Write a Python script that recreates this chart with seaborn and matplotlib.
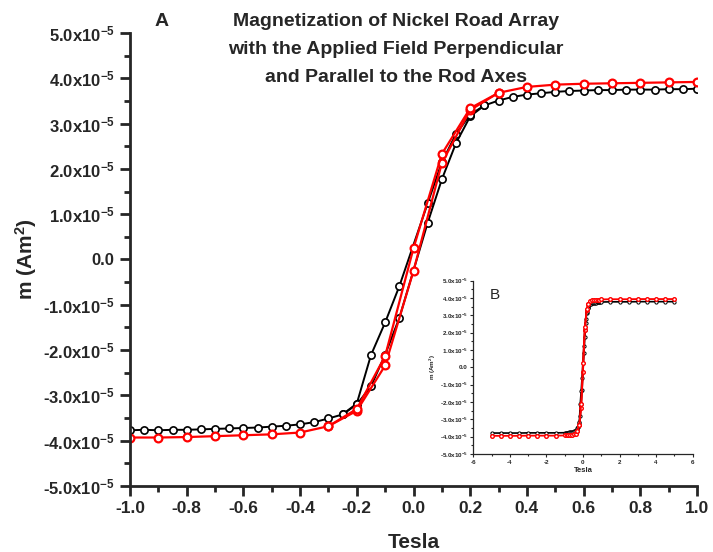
import numpy as np
import pandas as pd
import matplotlib
matplotlib.use("Agg")
import matplotlib.pyplot as plt
from matplotlib.ticker import MultipleLocator, FuncFormatter
import seaborn as sns

# ---------------- data (m in units of 1e-5 A m^2) ----------------
black_up_field = [-1.0, -0.95, -0.9, -0.85, -0.8, -0.75, -0.7, -0.65, -0.6, -0.55,
                  -0.5, -0.45, -0.4, -0.35, -0.3, -0.25, -0.2, -0.15, -0.1, -0.05,
                  0.05, 0.1, 0.15, 0.2, 0.25, 0.3, 0.35, 0.4, 0.45, 0.5,
                  0.55, 0.6, 0.65, 0.7, 0.75, 0.8, 0.85, 0.9, 0.95, 1.0]
black_up_m = [-3.77, -3.76, -3.77, -3.76, -3.76, -3.75, -3.74, -3.73, -3.72, -3.71,
              -3.69, -3.67, -3.64, -3.59, -3.51, -3.42, -3.20, -2.80, -2.10, -1.29,
              0.81, 1.77, 2.57, 3.16, 3.40, 3.51, 3.59, 3.64, 3.67, 3.70,
              3.72, 3.73, 3.74, 3.74, 3.75, 3.75, 3.75, 3.76, 3.76, 3.77]
black_down_field = [0.25, 0.2, 0.15, 0.1, 0.05, -0.05, -0.1, -0.15, -0.2, -0.25]
black_down_m = [3.40, 3.20, 2.77, 2.15, 1.24, -0.59, -1.39, -2.11, -3.18, -3.42]

red_up_field = [-1.0, -0.9, -0.8, -0.7, -0.6, -0.5, -0.4, -0.3, -0.2, -0.1,
                0.0, 0.1, 0.2, 0.3, 0.4, 0.5, 0.6, 0.7, 0.8, 0.9, 1.0]
red_up_m = [-3.93, -3.93, -3.92, -3.90, -3.88, -3.86, -3.82, -3.68, -3.34, -2.34,
            -0.25, 2.13, 3.30, 3.68, 3.81, 3.86, 3.88, 3.89, 3.90, 3.91, 3.92]
red_down_field = [0.3, 0.2, 0.1, 0.0, -0.1, -0.2, -0.3]
red_down_m = [3.68, 3.34, 2.33, 0.25, -2.13, -3.30, -3.68]

# wide-range (inset) extra points
wide_neg_field = [-5.0, -4.5, -4.0, -3.5, -3.0, -2.5, -2.0, -1.5]
wide_pos_field = [1.5, 2.0, 2.5, 3.0, 3.5, 4.0, 4.5, 5.0]
wide_black_neg = [-3.79, -3.79, -3.79, -3.79, -3.78, -3.78, -3.78, -3.78]
wide_black_pos = [3.78, 3.78, 3.78, 3.79, 3.79, 3.79, 3.79, 3.79]
wide_red_neg = [-3.95, -3.95, -3.95, -3.95, -3.94, -3.94, -3.94, -3.94]
wide_red_pos = [3.93, 3.93, 3.93, 3.94, 3.94, 3.94, 3.94, 3.94]

x_ticks = [-1.0, -0.8, -0.6, -0.4, -0.2, 0.0, 0.2, 0.4, 0.6, 0.8, 1.0]
y_ticks = [-5, -4, -3, -2, -1, 0, 1, 2, 3, 4, 5]
title_lines = ["Magnetization of Nickel Road Array",
               "with the Applied Field Perpendicular",
               "and Parallel to the Rod Axes"]

SCALE = 1e-5

sns.set_style("ticks")
plt.rcParams['font.family'] = ['Liberation Sans', 'DejaVu Sans']
plt.rcParams['mathtext.fontset'] = 'custom'
plt.rcParams['mathtext.rm'] = 'Liberation Sans:bold'
plt.rcParams['mathtext.bf'] = 'Liberation Sans:bold'
plt.rcParams['mathtext.it'] = 'Liberation Sans:bold'
plt.rcParams['axes.unicode_minus'] = False

fig = plt.figure(figsize=(7.13, 5.52), dpi=100)
ax = fig.add_axes([0.1823, 0.1196, 0.7953, 0.8206])

def df_of(f, m):
    return pd.DataFrame({"T": f, "m": np.array(m) * SCALE})

def draw(axis, f, m, color, lw, ms, mew):
    sns.lineplot(data=df_of(f, m), x="T", y="m", ax=axis, sort=False, estimator=None,
                 color=color, lw=lw, marker="o", markersize=ms,
                 markerfacecolor="white", markeredgecolor=color, markeredgewidth=mew,
                 legend=False)

draw(ax, black_up_field, black_up_m, "black", 1.4, 5.2, 1.2)
draw(ax, black_down_field, black_down_m, "black", 1.4, 5.2, 1.2)
draw(ax, red_up_field, red_up_m, "#ff0000", 1.6, 5.6, 1.6)
draw(ax, red_down_field, red_down_m, "#ff0000", 1.6, 5.6, 1.6)

ax.set_xlim(-1.0, 1.0)
ax.set_ylim(-5 * SCALE, 5 * SCALE)
sns.despine(ax=ax)
for s in ["left", "bottom"]:
    ax.spines[s].set_linewidth(2)
ax.set_xticks(x_ticks)
ax.xaxis.set_minor_locator(MultipleLocator(0.1))
ax.set_yticks([v * SCALE for v in y_ticks])
ax.yaxis.set_minor_locator(MultipleLocator(0.5 * SCALE))
ax.tick_params(which="major", direction="out", length=7, width=2, labelsize=12, pad=4)
ax.tick_params(axis="x", which="major", labelsize=12.5)
ax.tick_params(which="minor", direction="out", length=4.5, width=2)

def yfmt(v, pos):
    k = v / SCALE
    if abs(k) < 1e-9:
        return "0.0"
    return "%.1fx10" % k + r"$^{-5}$"

ax.yaxis.set_major_formatter(FuncFormatter(yfmt))
ax.xaxis.set_major_formatter(FuncFormatter(lambda v, p: "%.1f" % v))
for lab in ax.get_xticklabels() + ax.get_yticklabels():
    lab.set_fontweight("bold")
ax.set_xlabel("Tesla", fontsize=15, fontweight="bold", labelpad=12)
ax.set_ylabel(r"m (Am$^{2}$)", fontsize=15, fontweight="bold", labelpad=3)

for i, t in enumerate(title_lines):
    fig.text(396 / 713, 1 - (22 + 27.5 * i) / 552, t, ha="center", va="center",
             fontsize=14, fontweight="bold")
fig.text(162 / 713, 1 - 22 / 552, "A", ha="center", va="center", fontsize=14, fontweight="bold")

# ---------------- inset ----------------
axi = fig.add_axes([0.6638, 0.1775, 0.3077, 0.314])
draw(axi, wide_neg_field + black_up_field + wide_pos_field,
     wide_black_neg + black_up_m + wide_black_pos, "black", 1.2, 2.3, 0.7)
draw(axi, black_down_field, black_down_m, "black", 1.2, 2.3, 0.7)
draw(axi, wide_neg_field + red_up_field + wide_pos_field,
     wide_red_neg + red_up_m + wide_red_pos, "#ff0000", 1.3, 2.6, 1.0)
draw(axi, red_down_field, red_down_m, "#ff0000", 1.3, 2.6, 1.0)
axi.set_xlim(-6, 6)
axi.set_ylim(-5 * SCALE, 5 * SCALE)
sns.despine(ax=axi)
for s in ["left", "bottom"]:
    axi.spines[s].set_linewidth(0.9)
axi.set_xticks([-6, -4, -2, 0, 2, 4, 6])
axi.xaxis.set_minor_locator(MultipleLocator(1))
axi.set_yticks([v * SCALE for v in y_ticks])
axi.yaxis.set_minor_locator(MultipleLocator(0.5 * SCALE))
axi.tick_params(which="major", direction="out", length=2.5, width=0.8, labelsize=4.5, pad=1.5)
axi.tick_params(which="minor", direction="out", length=1.5, width=0.8)
axi.yaxis.set_major_formatter(FuncFormatter(yfmt))
axi.xaxis.set_major_formatter(FuncFormatter(lambda v, p: "%d" % v))
for lab in axi.get_xticklabels() + axi.get_yticklabels():
    lab.set_fontweight("bold")
axi.set_xlabel("Tesla", fontsize=5.5, fontweight="bold", labelpad=2)
axi.set_ylabel(r"m (Am$^{2}$)", fontsize=4.5, fontweight="bold", labelpad=1)
axi.text(-4.8, 4.15 * SCALE, "B", fontsize=11, ha="center", va="center")

fig.savefig("out.png", dpi=100)
